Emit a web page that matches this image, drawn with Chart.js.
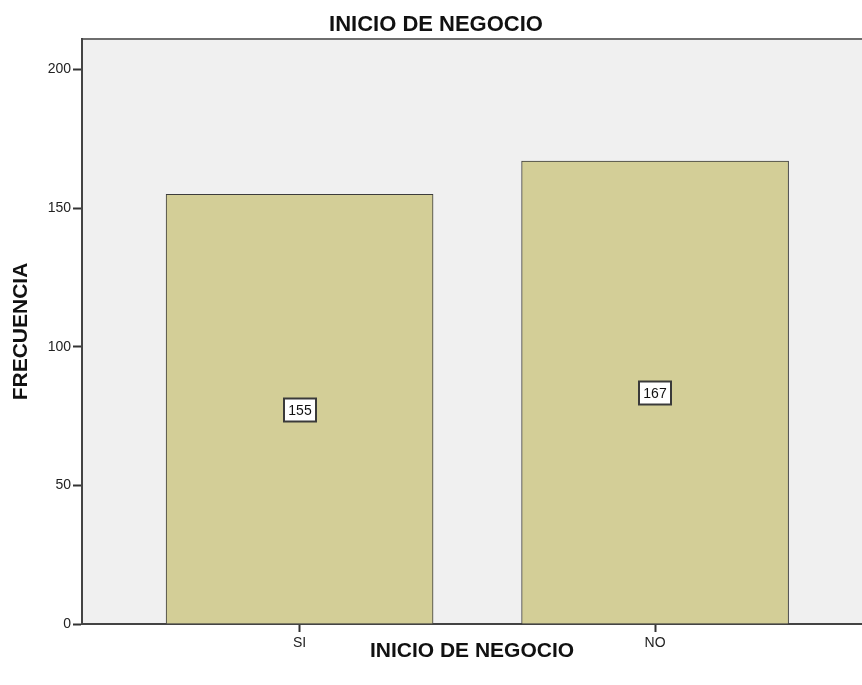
<!DOCTYPE html>
<html>
<head>
<meta charset="utf-8">
<script src="https://cdn.jsdelivr.net/npm/chart.js@4/dist/chart.umd.min.js"></script>
<style>
  html, body { margin: 0; padding: 0; background: #ffffff; }
  #wrap { width: 862px; height: 685px; }
</style>
</head>
<body>
<div id="wrap"><canvas id="c" width="862" height="685"></canvas></div>
<script>
// Frequencies of business start-up answers
const categories = ['SI', 'NO'];
const frequencies = [155, 167];
const yTicks = [0, 50, 100, 150, 200];

const FONT = "'Liberation Sans', Arial, sans-serif";

// Plot background and top frame line
const plotBackground = {
  id: 'plotBackground',
  beforeDraw(chart) {
    const { ctx, chartArea: a } = chart;
    ctx.save();
    ctx.fillStyle = '#f0f0f0';
    ctx.fillRect(a.left, a.top, a.right - a.left, a.bottom - a.top);
    ctx.strokeStyle = '#6e6e6e';
    ctx.lineWidth = 2;
    ctx.beginPath();
    ctx.moveTo(a.left, a.top);
    ctx.lineTo(a.right, a.top);
    ctx.stroke();
    ctx.restore();
  }
};

// Boxed value labels at the middle of each bar
const valueBoxes = {
  id: 'valueBoxes',
  afterDatasetsDraw(chart) {
    const { ctx } = chart;
    const meta = chart.getDatasetMeta(0);
    const yScale = chart.scales.y;
    ctx.save();
    ctx.font = '14px ' + FONT;
    ctx.textAlign = 'center';
    ctx.textBaseline = 'middle';
    meta.data.forEach((bar, i) => {
      const v = frequencies[i];
      const cy = Math.round(yScale.getPixelForValue(v / 2)) + 1;
      const cx = Math.round(bar.x);
      const txt = String(v);
      const w = 32;
      const h = 23;
      const x0 = cx - w / 2;
      const y0 = cy - h / 2;
      ctx.fillStyle = '#ffffff';
      ctx.fillRect(x0, y0, w, h);
      ctx.strokeStyle = '#3a3a3a';
      ctx.lineWidth = 2;
      ctx.strokeRect(x0, y0, w, h);
      ctx.fillStyle = '#111111';
      ctx.fillText(txt, cx, cy + 1);
    });
    ctx.restore();
  }
};

// Chart heading
const heading = {
  id: 'heading',
  afterDraw(chart) {
    const { ctx } = chart;
    ctx.save();
    ctx.font = 'bold 22px ' + FONT;
    ctx.fillStyle = '#111111';
    ctx.textAlign = 'center';
    ctx.textBaseline = 'middle';
    ctx.fillText('INICIO DE NEGOCIO', 436, 25);
    ctx.restore();
  }
};

new Chart(document.getElementById('c'), {
  type: 'bar',
  data: {
    datasets: [{
      data: categories.map((c, i) => ({ x: i + 1, y: frequencies[i] })),
      backgroundColor: '#d3ce97',
      borderColor: '#3c3c3c',
      borderWidth: 1,
      barThickness: 267
    }]
  },
  options: {
    responsive: false,
    animation: false,
    layout: { padding: { top: 39, right: 0, left: 0, bottom: 0 } },
    plugins: {
      legend: { display: false },
      tooltip: { enabled: false },
      title: { display: false }
    },
    scales: {
      x: {
        type: 'linear',
        offset: false,
        min: 0.388,
        max: 2.582,
        afterBuildTicks(s) { s.ticks = categories.map((c, i) => ({ value: i + 1 })); },
        afterFit(s) { s.height = 61; },
        ticks: {
          callback: (v) => categories[Math.round(v) - 1] || '',
          font: { family: FONT, size: 14 },
          color: '#222222',
          padding: 3,
          maxRotation: 0,
          autoSkip: false
        },
        grid: {
          offset: false,
          drawOnChartArea: false,
          drawTicks: true,
          tickLength: 8,
          tickWidth: 2,
          tickColor: '#333333'
        },
        border: { color: '#444444', width: 2 },
        title: {
          display: true,
          text: 'INICIO DE NEGOCIO',
          font: { family: FONT, size: 21, weight: 'bold' },
          color: '#111111',
          padding: { top: 0, bottom: 21 }
        }
      },
      y: {
        min: 0,
        max: 211,
        afterBuildTicks(s) { s.ticks = yTicks.map(v => ({ value: v })); },
        afterFit(s) { s.width = 82; },
        ticks: {
          font: { family: FONT, size: 14 },
          color: '#222222',
          padding: 2
        },
        grid: {
          drawOnChartArea: false,
          drawTicks: true,
          tickLength: 9,
          tickWidth: 2,
          tickColor: '#333333'
        },
        border: { color: '#444444', width: 2 },
        title: {
          display: true,
          text: 'FRECUENCIA',
          font: { family: FONT, size: 21, weight: 'bold' },
          color: '#111111',
          padding: { top: 9, bottom: 0 }
        }
      }
    }
  },
  plugins: [plotBackground, valueBoxes, heading]
});
</script>
</body>
</html>
